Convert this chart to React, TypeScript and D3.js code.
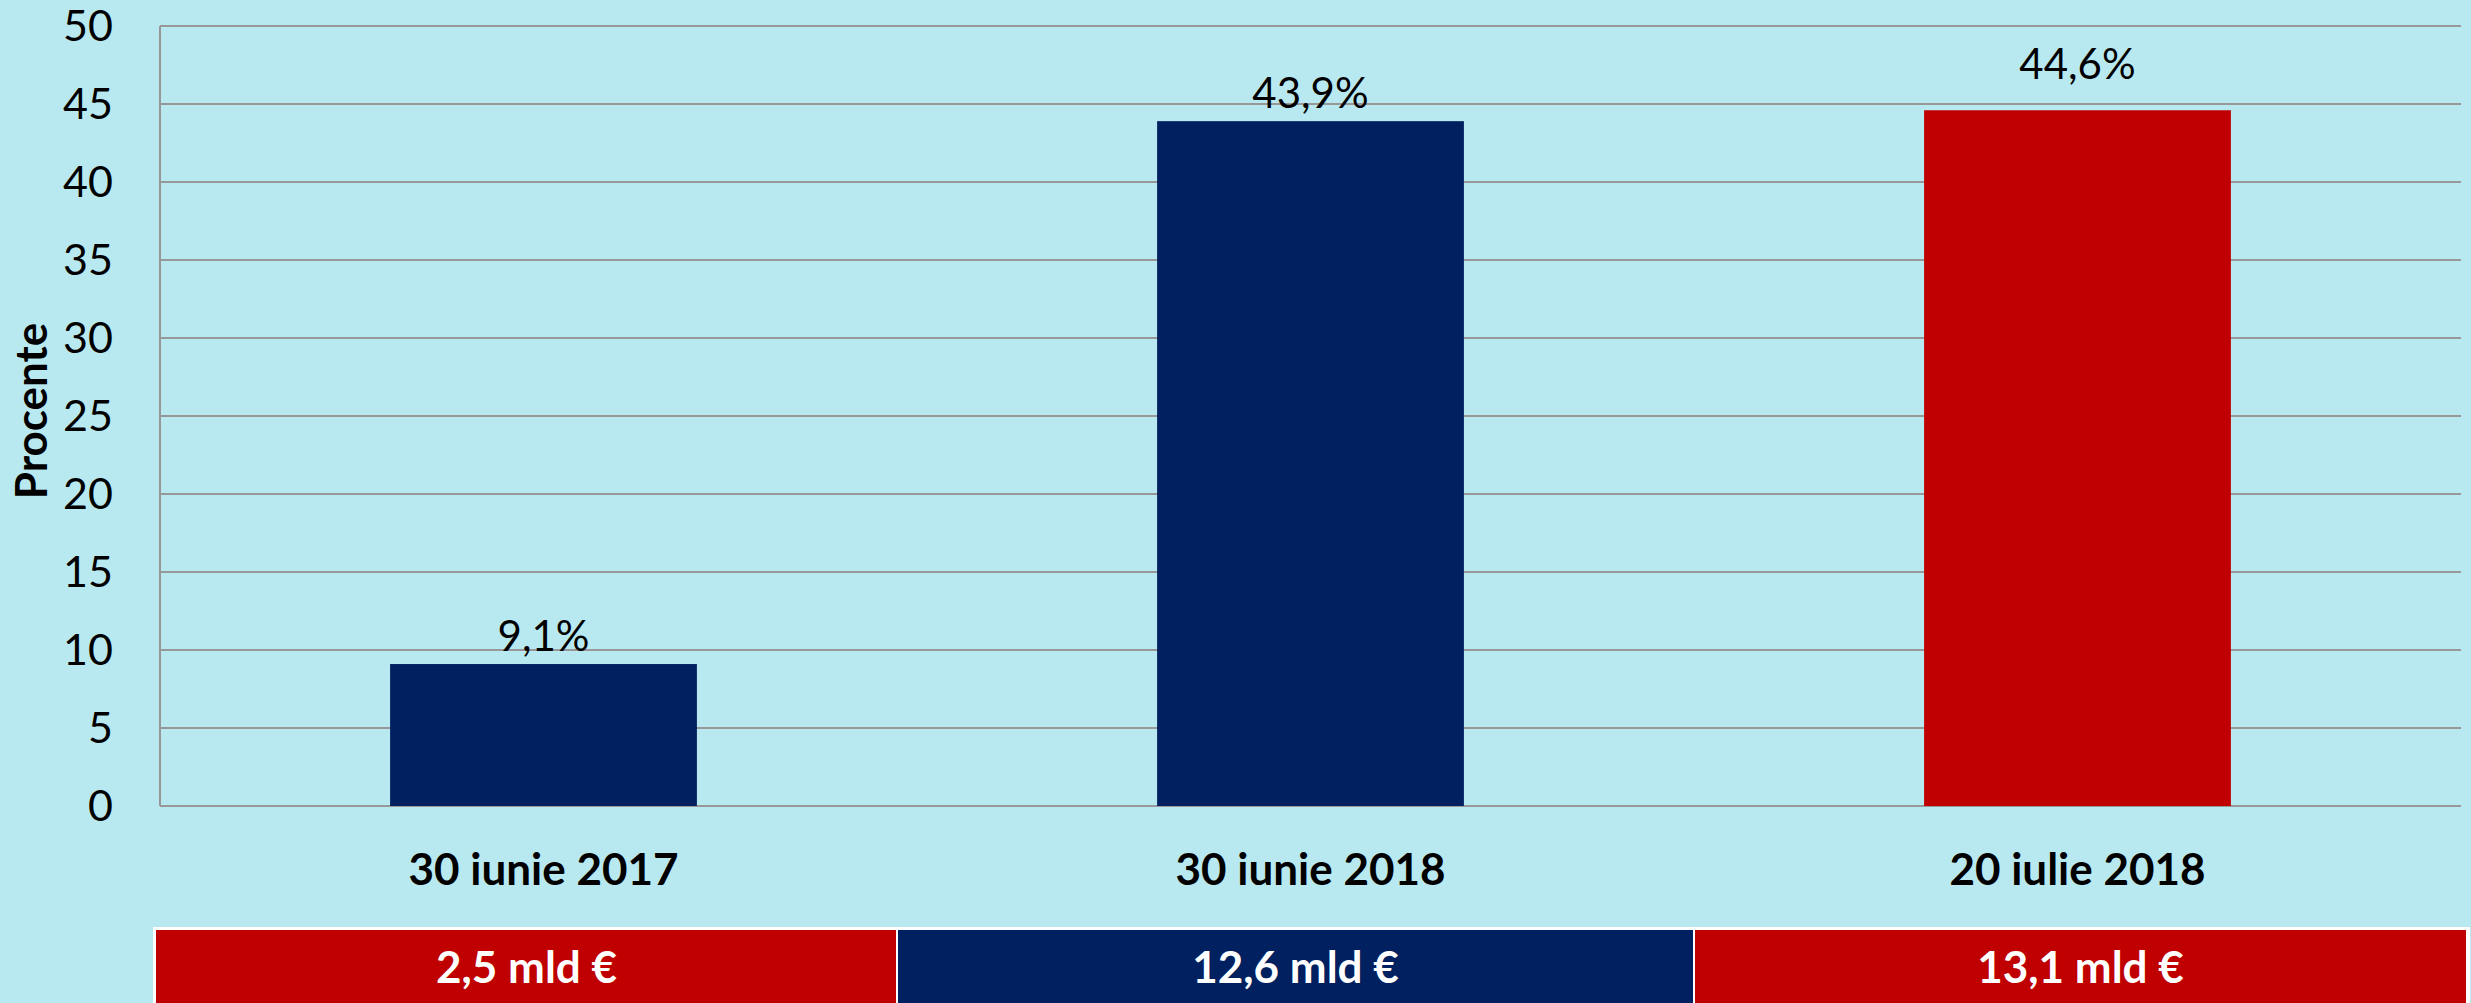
import React, { useEffect, useRef } from "react";
import * as d3 from "d3";

// Data
const categories = ["30 iunie 2017", "30 iunie 2018", "20 iulie 2018"];
const values = [9.1, 43.9, 44.6];
const valueLabels = ["9,1%", "43,9%", "44,6%"];
const barColours = ["#002060", "#002060", "#C00000"];
const yTicks = [0, 5, 10, 15, 20, 25, 30, 35, 40, 45, 50];
const tableLabels = ["2,5 mld €", "12,6 mld €", "13,1 mld €"];
const tableColours = ["#C00000", "#002060", "#C00000"];

// Layout
const W = 2471;
const H = 1003;
const plot = { left: 160, right: 2461, top: 26, bottom: 806 };
const tableEdges = [156, 897, 1694, 2467];
const tableTop = 930;
const labelLift = [0, 0, 18]; // last data label sits higher in the original
const bg = "#B9E9F0";
const font = "Lato, 'Open Sans', sans-serif";

const App = () => {
  const ref = useRef<SVGSVGElement>(null);

  useEffect(() => {
    document.body.style.margin = "0";
    if (!ref.current) return;
    const svg = d3.select(ref.current);
    svg.selectAll("*").remove();

    svg.append("rect").attr("width", W).attr("height", H).attr("fill", bg);

    const x = d3
      .scaleBand()
      .domain(categories)
      .range([plot.left, plot.right])
      .paddingInner(0.6)
      .paddingOuter(0.3);

    const y = d3.scaleLinear().domain([0, 50]).range([plot.bottom, plot.top]);

    // Gridlines
    svg
      .append("g")
      .selectAll("line")
      .data(yTicks)
      .join("line")
      .attr("x1", plot.left)
      .attr("x2", plot.right)
      .attr("y1", (d) => y(d))
      .attr("y2", (d) => y(d))
      .attr("stroke", "#989898")
      .attr("stroke-width", 2);

    // Y axis line
    svg
      .append("line")
      .attr("x1", plot.left)
      .attr("x2", plot.left)
      .attr("y1", y(50))
      .attr("y2", y(0))
      .attr("stroke", "#989898")
      .attr("stroke-width", 2);

    // Y tick labels
    svg
      .append("g")
      .selectAll("text")
      .data(yTicks)
      .join("text")
      .attr("x", 113)
      .attr("y", (d) => y(d))
      .attr("dy", "0.36em")
      .attr("text-anchor", "end")
      .style("font-family", font)
      .style("font-size", "43px")
      .attr("fill", "#000")
      .text((d) => d);

    // Y axis title
    svg
      .append("text")
      .attr("transform", `translate(47, 411) rotate(-90)`)
      .attr("text-anchor", "middle")
      .style("font-family", font)
      .style("font-size", "44px")
      .style("font-weight", "bold")
      .text("Procente");

    // Bars
    svg
      .append("g")
      .selectAll("rect")
      .data(values)
      .join("rect")
      .attr("x", (_, i) => x(categories[i])!)
      .attr("width", x.bandwidth())
      .attr("y", (d) => y(d))
      .attr("height", (d) => y(0) - y(d))
      .attr("fill", (_, i) => barColours[i]);

    // Value labels
    svg
      .append("g")
      .selectAll("text")
      .data(values)
      .join("text")
      .attr("x", (_, i) => x(categories[i])! + x.bandwidth() / 2)
      .attr("y", (d, i) => y(d) - 13 - labelLift[i])
      .attr("text-anchor", "middle")
      .style("font-family", font)
      .style("font-size", "42px")
      .text((_, i) => valueLabels[i]);

    // Category labels
    svg
      .append("g")
      .selectAll("text")
      .data(categories)
      .join("text")
      .attr("x", (d) => x(d)! + x.bandwidth() / 2)
      .attr("y", 885)
      .attr("text-anchor", "middle")
      .style("font-family", font)
      .style("font-size", "44px")
      .style("font-weight", "bold")
      .text((d) => d);

    // Table underneath
    const table = svg.append("g");
    table
      .append("rect")
      .attr("x", tableEdges[0] - 3)
      .attr("y", tableTop - 3)
      .attr("width", tableEdges[3] - tableEdges[0] + 6)
      .attr("height", H)
      .attr("fill", "#fff");
    table
      .selectAll("rect.cell")
      .data(tableLabels)
      .join("rect")
      .attr("class", "cell")
      .attr("x", (_, i) => tableEdges[i] + (i === 0 ? 0 : 1))
      .attr("y", tableTop)
      .attr("width", (_, i) => tableEdges[i + 1] - tableEdges[i] - (i === 0 ? 1 : 2))
      .attr("height", H - tableTop)
      .attr("fill", (_, i) => tableColours[i]);
    table
      .selectAll("text")
      .data(tableLabels)
      .join("text")
      .attr("x", (_, i) => (tableEdges[i] + tableEdges[i + 1]) / 2)
      .attr("y", 983)
      .attr("text-anchor", "middle")
      .attr("fill", "#fff")
      .style("font-family", font)
      .style("font-size", "44px")
      .style("font-weight", "bold")
      .text((d) => d);
  }, []);

  return (
    <svg
      ref={ref}
      width={W}
      height={H}
      style={{ position: "absolute", left: 0, top: 0, display: "block" }}
    />
  );
};

export default App;
